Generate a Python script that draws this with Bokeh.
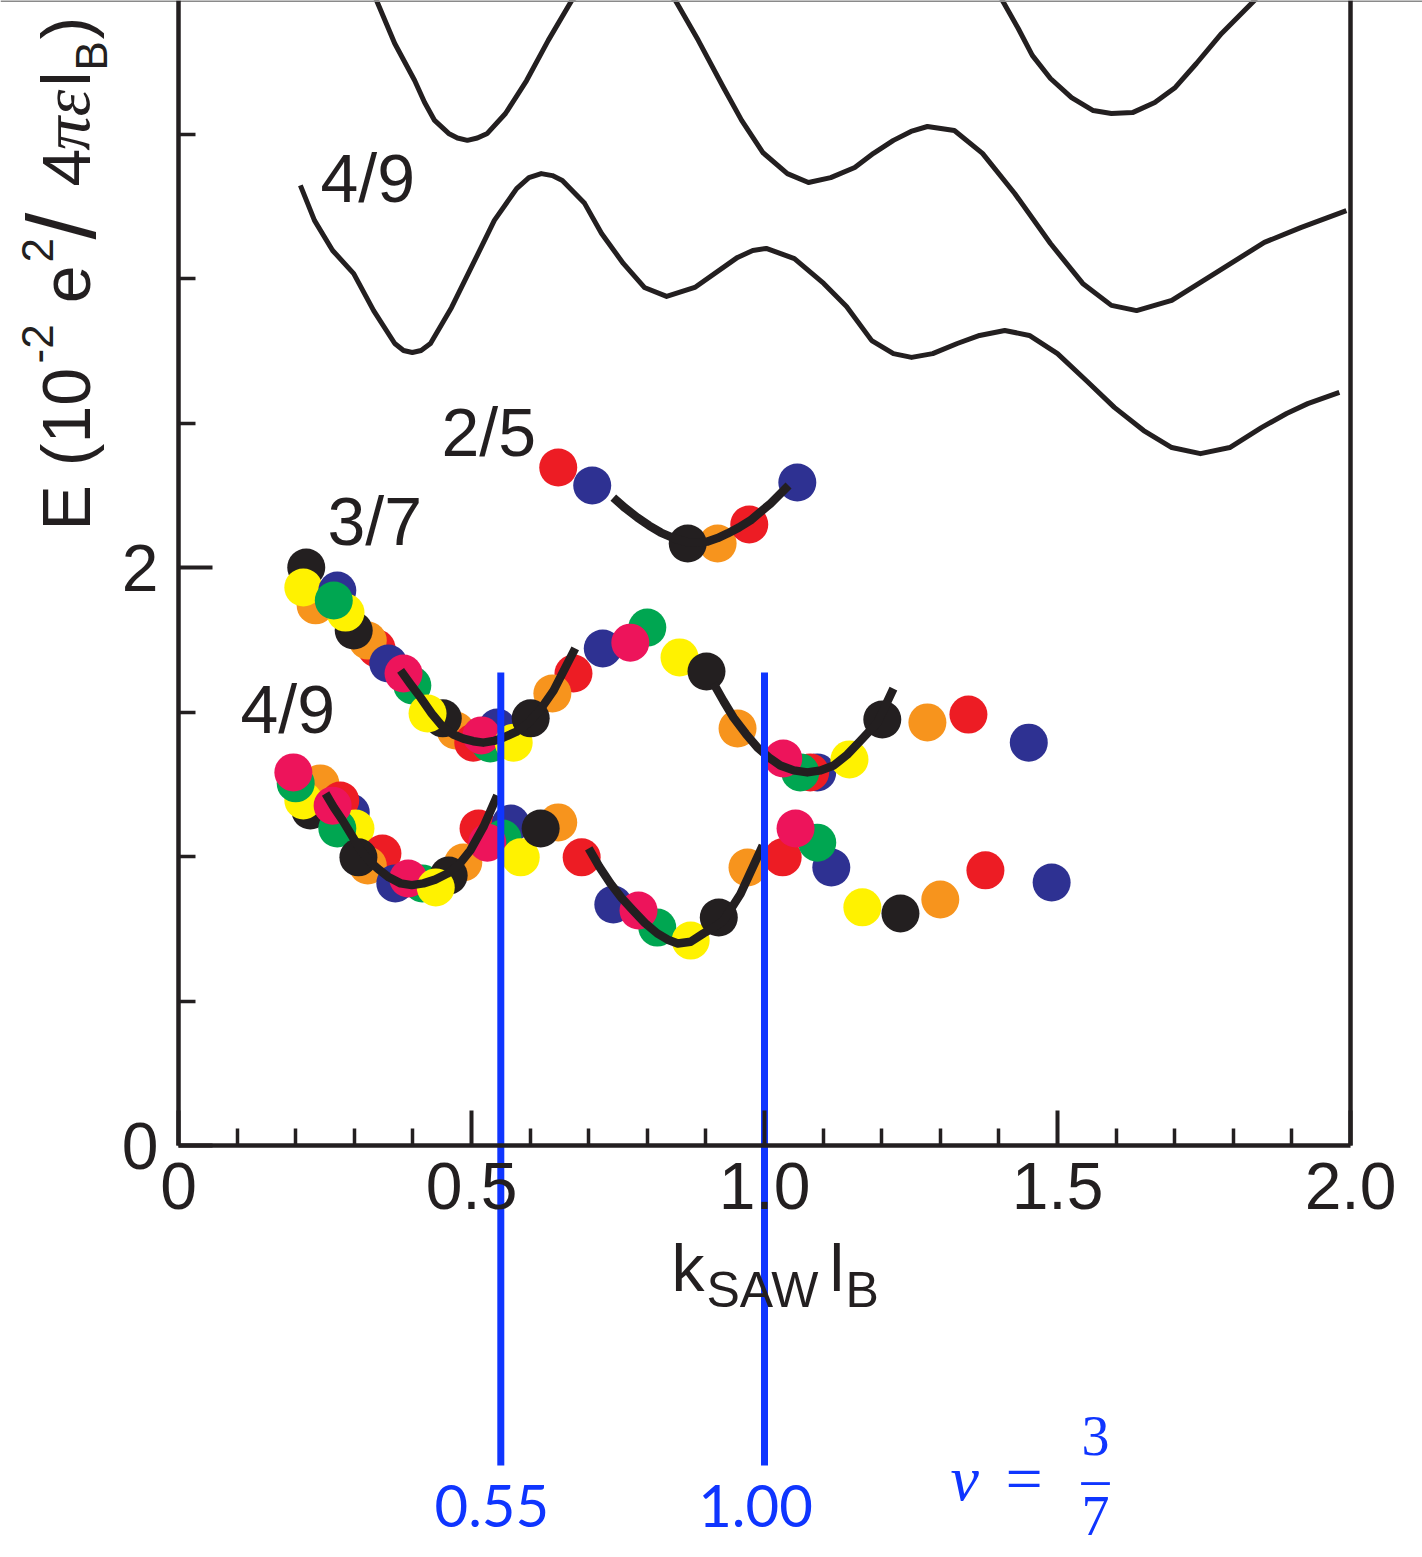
import numpy as np
from bokeh.plotting import figure
from bokeh.models import LinearAxis, FixedTicker, Range1d, ColumnDataSource
from bokeh.core.properties import value
from bokeh.embed import file_html
from bokeh.resources import INLINE

# ---------------- data ----------------
x_ticks = [0, 0.5, 1.0, 1.5, 2.0]
x_tick_labels = ["0", "0.5", "1.0", "1.5", "2.0"]
x_minor = [0.1, 0.2, 0.3, 0.4, 0.6, 0.7, 0.8, 0.9, 1.1, 1.2, 1.3, 1.4, 1.6, 1.7, 1.8, 1.9]
y_ticks = [0, 2]
y_minor = [0.5, 1.0, 1.5, 2.5, 3.0, 3.5]

# theory dispersion curves (black thin lines)
curve_top_k = [1.377, 1.406, 1.433, 1.457, 1.488, 1.524, 1.561, 1.592, 1.628, 1.666, 1.701, 1.737, 1.780, 1.836, 1.875]
curve_top_E = [4.066, 3.962, 3.865, 3.772, 3.692, 3.626, 3.581, 3.571, 3.574, 3.609, 3.661, 3.744, 3.848, 3.962, 4.066]

curve_mid_k = [0.314, 0.338, 0.369, 0.403, 0.420, 0.437, 0.461, 0.476, 0.493, 0.510, 0.527, 0.558, 0.594,
               0.631, 0.671, 0.759, 0.848, 0.887, 0.930, 0.961, 0.997, 1.039, 1.075, 1.113, 1.154, 1.186,
               1.220, 1.250, 1.278, 1.324, 1.372, 1.427, 1.488, 1.543, 1.592, 1.635, 1.695, 1.768, 1.853,
               1.915, 1.993]
curve_mid_E = [4.066, 3.962, 3.813, 3.685, 3.609, 3.547, 3.502, 3.486, 3.478, 3.486, 3.502, 3.571, 3.685,
               3.824, 3.962, 4.100, 3.962, 3.824, 3.661, 3.547, 3.436, 3.363, 3.332, 3.349, 3.384, 3.433,
               3.478, 3.509, 3.526, 3.512, 3.433, 3.294, 3.121, 2.983, 2.907, 2.889, 2.924, 3.017, 3.125,
               3.176, 3.235]

curve_49_k = [0.208, 0.232, 0.263, 0.299, 0.333, 0.369, 0.384, 0.399, 0.414, 0.430, 0.466, 0.503, 0.539,
              0.577, 0.598, 0.619, 0.638, 0.655, 0.693, 0.722, 0.759, 0.795, 0.833, 0.881, 0.954, 0.980,
              1.003, 1.051, 1.101, 1.140, 1.183, 1.220, 1.251, 1.287, 1.329, 1.367, 1.410, 1.452, 1.500,
              1.549, 1.597, 1.647, 1.695, 1.744, 1.794, 1.848, 1.891, 1.927, 1.981]
curve_49_E = [3.322, 3.201, 3.097, 3.017, 2.889, 2.775, 2.751, 2.744, 2.751, 2.775, 2.900, 3.052, 3.201,
              3.311, 3.349, 3.363, 3.356, 3.339, 3.260, 3.156, 3.052, 2.969, 2.938, 2.969, 3.073, 3.097,
              3.104, 3.069, 2.983, 2.903, 2.785, 2.740, 2.727, 2.740, 2.775, 2.803, 2.820, 2.803, 2.740,
              2.647, 2.554, 2.474, 2.415, 2.394, 2.415, 2.484, 2.533, 2.567, 2.606]

# coloured data points (drawing order: back to front)
g37_k = [0.218, 0.234, 0.213, 0.271, 0.338, 0.323, 0.299, 0.285, 0.265, 0.358, 0.399, 0.384, 0.473, 0.451,
         0.425, 0.503, 0.532, 0.544, 0.517, 0.572, 0.674, 0.638, 0.601, 0.800, 0.724, 0.771, 0.855, 0.901,
         0.954, 1.090, 1.078, 1.061, 1.032, 1.145, 1.201, 1.278, 1.348, 1.451]
g37_E = [2.000, 1.869, 1.931, 1.920, 1.720, 1.747, 1.782, 1.844, 1.886, 1.668, 1.592, 1.633, 1.436, 1.478,
         1.495, 1.394, 1.391, 1.446, 1.419, 1.394, 1.633, 1.564, 1.478, 1.792, 1.720, 1.740, 1.689, 1.640,
         1.443, 1.291, 1.291, 1.291, 1.339, 1.336, 1.474, 1.464, 1.491, 1.394]
g37_s = ["black", "orange", "yellow", "blue", "red", "orange", "black", "yellow", "green", "blue", "green",
         "pink", "orange", "black", "yellow", "red", "green", "blue", "pink", "yellow", "red", "orange",
         "black", "green", "blue", "pink", "yellow", "black", "orange", "blue", "red", "green", "pink",
         "yellow", "black", "orange", "red", "blue"]

g49_k = [0.225, 0.242, 0.213, 0.200, 0.196, 0.294, 0.276, 0.302, 0.271, 0.263, 0.348, 0.323, 0.307, 0.370,
         0.416, 0.392, 0.486, 0.461, 0.439, 0.512, 0.567, 0.553, 0.527, 0.584, 0.648, 0.618, 0.688, 0.742,
         0.817, 0.785, 0.874, 0.922, 0.971, 1.031, 1.114, 1.090, 1.053, 1.167, 1.232, 1.300, 1.377, 1.490]
g49_E = [1.159, 1.253, 1.194, 1.253, 1.291, 1.152, 1.194, 1.097, 1.097, 1.176, 1.010, 0.969, 0.997, 0.907,
         0.907, 0.924, 0.979, 0.934, 0.893, 1.097, 1.114, 1.062, 1.048, 0.997, 1.118, 1.097, 0.997, 0.834,
         0.754, 0.813, 0.709, 0.789, 0.962, 0.997, 0.962, 1.048, 1.097, 0.824, 0.803, 0.851, 0.952, 0.910]
g49_s = ["black", "orange", "yellow", "green", "pink", "blue", "red", "yellow", "green", "pink", "red",
         "orange", "black", "blue", "green", "pink", "orange", "black", "yellow", "red", "blue", "green",
         "pink", "yellow", "orange", "black", "red", "blue", "green", "pink", "yellow", "black", "orange",
         "red", "blue", "green", "pink", "yellow", "black", "orange", "red", "blue"]

g25_k = [0.648, 0.706, 0.920, 0.974, 0.869, 1.056]
g25_E = [2.346, 2.284, 2.083, 2.149, 2.083, 2.294]
g25_s = ["red", "blue", "orange", "red", "black", "blue"]

# fitted curves (thick black)
fit_37a_k = [0.379, 0.396, 0.413, 0.432, 0.452, 0.469, 0.486, 0.503, 0.520, 0.538, 0.555, 0.576, 0.596, 0.618, 0.640, 0.677]
fit_37a_E = [1.644, 1.596, 1.550, 1.495, 1.446, 1.422, 1.408, 1.399, 1.394, 1.400, 1.412, 1.431, 1.460, 1.510, 1.574, 1.720]
fit_37b_k = [0.913, 0.930, 0.947, 0.968, 0.988, 1.008, 1.027, 1.050, 1.073, 1.096, 1.118, 1.141, 1.164, 1.193, 1.220]
fit_37b_E = [1.599, 1.538, 1.481, 1.425, 1.377, 1.342, 1.315, 1.298, 1.291, 1.298, 1.315, 1.352, 1.401, 1.464, 1.581]
fit_49a_k = [0.251, 0.265, 0.280, 0.296, 0.311, 0.325, 0.340, 0.359, 0.379, 0.398, 0.418, 0.438, 0.459, 0.479, 0.498, 0.521, 0.544]
fit_49a_E = [1.218, 1.170, 1.125, 1.072, 1.021, 0.986, 0.958, 0.928, 0.907, 0.901, 0.907, 0.920, 0.941, 0.973, 1.021, 1.105, 1.211]
fit_49b_k = [0.700, 0.718, 0.737, 0.756, 0.776, 0.796, 0.817, 0.835, 0.852, 0.874, 0.896, 0.914, 0.930, 0.959, 0.997]
fit_49b_E = [1.028, 0.965, 0.907, 0.857, 0.813, 0.770, 0.734, 0.712, 0.699, 0.705, 0.734, 0.755, 0.778, 0.870, 1.038]
fit_25_k = [0.742, 0.762, 0.783, 0.803, 0.823, 0.846, 0.869, 0.886, 0.903, 0.920, 0.937, 0.956, 0.976, 1.010, 1.041]
fit_25_E = [2.242, 2.206, 2.173, 2.145, 2.121, 2.101, 2.087, 2.086, 2.090, 2.102, 2.118, 2.138, 2.163, 2.221, 2.284]

# SAW wave-vector markers
saw_k = [0.55, 1.00]
saw_labels = ["0.55", "1.00"]

fraction_labels = ["4/9", "2/5", "3/7", "4/9"]

# ---------------- styles ----------------
INK = "#231f20"
BLUE = "#0f35ff"
palette = {"red": "#ED1C24", "blue": "#2E3192", "orange": "#F7941D", "yellow": "#FFF200",
           "green": "#00A651", "pink": "#ED145B", "black": "#231F20"}
SANS = "Liberation Sans"
SERIF = "Liberation Serif"

X0, X1 = -178 / 586, 2 + 72 / 586
Y1 = 1145 / 289
Y0 = -(1557 - 1145) / 289

p = figure(width=1422, height=1557, x_range=Range1d(X0, X1), y_range=Range1d(Y0, Y1),
           x_axis_type=None, y_axis_type=None, toolbar_location=None, output_backend="svg",
           min_border=0, outline_line_color=None)
p.background_fill_color = "white"
p.border_fill_color = "white"

def style_axis(ax):
    ax.axis_line_color = INK
    ax.axis_line_width = 4.5
    ax.major_tick_line_color = INK
    ax.major_tick_line_width = 4
    ax.minor_tick_line_color = INK
    ax.minor_tick_line_width = 3.5
    ax.major_tick_out = 0
    ax.minor_tick_out = 0
    ax.major_label_text_font = SANS
    ax.major_label_text_font_size = "66px"
    ax.major_label_text_color = INK

xa = LinearAxis(fixed_location=0, bounds=(0, 2),
                ticker=FixedTicker(ticks=x_ticks, minor_ticks=x_minor),
                major_label_overrides={t: s for t, s in zip(x_ticks, x_tick_labels)})
style_axis(xa)
xa.major_tick_in = 35
xa.minor_tick_in = 17
xa.major_label_standoff = 17
p.add_layout(xa, "below")

ya = LinearAxis(fixed_location=0, bounds=(0, Y1),
                ticker=FixedTicker(ticks=y_ticks, minor_ticks=y_minor))
style_axis(ya)
ya.major_tick_in = 34
ya.minor_tick_in = 17
ya.major_label_standoff = 20
p.add_layout(ya, "left")

ra = LinearAxis(fixed_location=2, bounds=(0, Y1), ticker=FixedTicker(ticks=[], minor_ticks=[]),
                major_label_text_font_size="0px")
ra.axis_line_color = INK
ra.axis_line_width = 4.5
p.add_layout(ra, "right")

# thin grey edge along the top of the picture
ta = LinearAxis(fixed_location=Y1, ticker=FixedTicker(ticks=[], minor_ticks=[]),
                major_label_text_font_size="0px")
ta.axis_line_color = "#8a8a8a"
ta.axis_line_width = 3
p.add_layout(ta, "above")

# theory curves
for ks, es in [(curve_top_k, curve_top_E), (curve_mid_k, curve_mid_E), (curve_49_k, curve_49_E)]:
    p.line(ks, es, line_color=INK, line_width=5, line_join="round")

# dots
all_k = g37_k + g49_k + g25_k
all_E = g37_E + g49_E + g25_E
all_s = g37_s + g49_s + g25_s
src = ColumnDataSource(dict(k=all_k, E=all_E, c=[palette[s] for s in all_s]))
p.scatter(x="k", y="E", source=src, marker="circle", size=38, fill_color="c", line_color=None)

# fits
for ks, es in [(fit_37a_k, fit_37a_E), (fit_37b_k, fit_37b_E), (fit_49a_k, fit_49a_E),
               (fit_49b_k, fit_49b_E), (fit_25_k, fit_25_E)]:
    p.line(ks, es, line_color=INK, line_width=8.5, line_join="round", line_cap="butt")

# SAW lines
p.segment(x0=saw_k, x1=saw_k, y0=[-1.107] * 2, y1=[1.637] * 2, line_color=BLUE, line_width=7)

def add_text(x, y, s, size, font=SANS, color=INK, angle=0.0, align="left", style="normal"):
    p.text(x=[x], y=[y], text=[s], text_font=value(font), text_font_size=f"{size}px",
           text_color=color, angle=angle, text_align=align, text_baseline="middle",
           text_font_style=style)

# fraction labels (left edge, vertical centre)
frac_pos = [(0.2423, 3.3478), (0.4488, 2.4689), (0.2543, 2.1626), (0.1058, 1.5121)]
for s, (x, y) in zip(fraction_labels, frac_pos):
    add_text(x, y, s, 68)

# x-axis title  k_SAW l_B
add_text(0.8413, -0.4256, "k", 66)
add_text(0.9010, -0.5017, "SAW", 50)
add_text(1.1109, -0.4256, "l", 66)
add_text(1.1382, -0.5017, "B", 50)

# y-axis title  E (10^-2 e^2 / 4 pi eps l_B )
A = np.pi / 2
add_text(-0.1916, 2.128, "E (10", 68, angle=A)
add_text(-0.2406, 2.706, "-2", 44, angle=A)
add_text(-0.1916, 2.914, "e", 68, angle=A)
add_text(-0.2406, 3.055, "2", 44, angle=A)
add_text(-0.2003, 3.135, "/", 96, angle=A)
add_text(-0.1916, 3.318, "4", 68, angle=A)
add_text(-0.1916, 3.443, "πε", 68, font=SERIF, angle=A, style="italic")
add_text(-0.1916, 3.664, "l", 68, angle=A)
add_text(-0.1485, 3.720, "B", 44, angle=A)
add_text(-0.1916, 3.827, ")", 68, angle=A)

# SAW labels
for k, s in zip(saw_k, saw_labels):
    p.text(x=[k], y=[-1.2474], text=[s], text_font=value("Lato"), text_font_size="58px",
           text_color=BLUE, text_align="center", text_baseline="middle", x_offset=-9)

# nu = 3/7
add_text(1.3174, -1.1522, "ν", 64, font=SERIF, color=BLUE, style="italic")
add_text(1.4113, -1.1522, "=", 66, font=SERIF, color=BLUE)
add_text(1.5648, -1.0069, "3", 56, font=SERIF, color=BLUE, align="center")
add_text(1.5648, -1.1522, "–", 56, font=SERIF, color=BLUE, align="center")
add_text(1.5648, -1.2837, "7", 56, font=SERIF, color=BLUE, align="center")

open("out.html", "w").write(file_html(p, INLINE))
